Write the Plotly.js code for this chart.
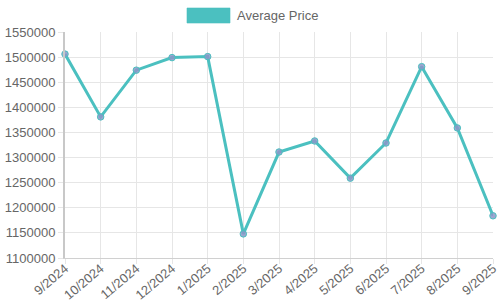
<!DOCTYPE html>
<html>
<head>
<meta charset="utf-8">
<script src="https://cdn.plot.ly/plotly-3.0.1.min.js"></script>
<style>html,body{margin:0;padding:0;background:#fff;}#chart{width:500px;height:300px;}</style>
</head>
<body>
<div id="chart"></div>
<script>
const months = ["9/2024","10/2024","11/2024","12/2024","1/2025","2/2025","3/2025","4/2025","5/2025","6/2025","7/2025","8/2025","9/2025"];
const averagePrice = [1506000,1381000,1474000,1499000,1501000,1148000,1311000,1333000,1259000,1329000,1481000,1359000,1184000];
const seriesName = "Average Price";

const teal = "rgb(75,192,192)";
const trace = {
  x: months, y: averagePrice, type: "scatter", mode: "lines+markers", name: seriesName,
  line: {color: teal, width: 3},
  marker: {size: 6.5, color: "rgba(140,150,200,0.85)", line: {color: teal, width: 1}},
  cliponaxis: false, showlegend: false
};
const tickFont = {family: "Liberation Sans, Arial, sans-serif", size: 13, color: "#666"};
const layout = {
  width: 500, height: 300,
  margin: {l: 65, r: 7, t: 32, b: 42},
  paper_bgcolor: "#fff", plot_bgcolor: "#fff",
  showlegend: false,
  xaxis: {
    type: "category", range: [0, months.length - 1],
    tickangle: -40, tickfont: tickFont, automargin: false,
    ticklabelstandoff: -8,
    showgrid: true, gridcolor: "#e6e6e6", gridwidth: 1,
    ticks: "outside", ticklen: 5, tickcolor: "#e6e6e6",
    showline: true, linecolor: "#d0d0d0", linewidth: 1,
    zeroline: false
  },
  yaxis: {
    range: [1100000, 1550000], dtick: 50000, tickformat: "d",
    tickfont: tickFont, automargin: false,
    showgrid: true, gridcolor: "#e6e6e6", gridwidth: 1,
    ticks: "outside", ticklen: 5, tickcolor: "#e6e6e6",
    showline: true, linecolor: "#c8c8c8", linewidth: 2,
    zeroline: false
  },
  shapes: [{type: "rect", xref: "paper", yref: "paper",
    x0: (187-65)/428, x1: (230-65)/428, y0: (258-8)/226, y1: (258-23)/226,
    fillcolor: teal, line: {color: "rgba(75,192,192,0.6)", width: 1}}],
  annotations: [{xref: "paper", yref: "paper", x: (235-65)/428, y: (258-15.5)/226,
    xanchor: "left", yanchor: "middle", text: seriesName, showarrow: false,
    font: tickFont}]
};
Plotly.newPlot("chart", [trace], layout, {displayModeBar: false, staticPlot: true});
</script>
</body>
</html>
